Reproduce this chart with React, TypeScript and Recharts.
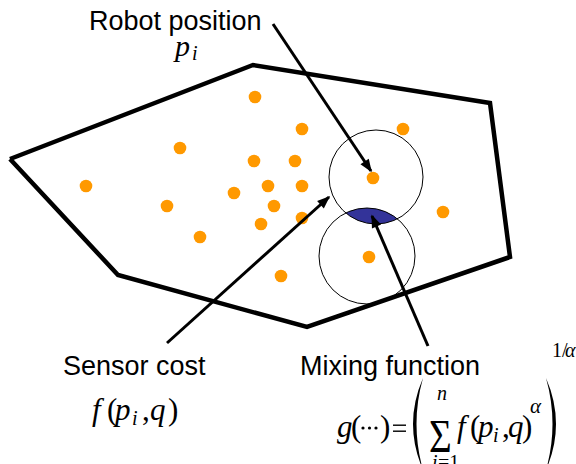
import React from "react";
import { ScatterChart, Scatter, XAxis, YAxis } from "recharts";

const W = 576;
const H = 464;

// the region the robots cover (closed polygon)
const boundary = [
  { x: 10, y: 159 },
  { x: 253, y: 65 },
  { x: 490, y: 103 },
  { x: 510, y: 257 },
  { x: 307, y: 327 },
  { x: 118, y: 275 },
  { x: 10, y: 159 },
];

const robots = [
  { x: 255, y: 97 },
  { x: 180, y: 148 },
  { x: 302, y: 129 },
  { x: 403, y: 129 },
  { x: 254, y: 161 },
  { x: 295, y: 161 },
  { x: 86, y: 186 },
  { x: 234, y: 193 },
  { x: 268, y: 186 },
  { x: 302, y: 186 },
  { x: 167, y: 206 },
  { x: 274, y: 206 },
  { x: 261, y: 224 },
  { x: 302, y: 218 },
  { x: 200, y: 237 },
  { x: 373, y: 178 },
  { x: 443, y: 212 },
  { x: 369, y: 257 },
  { x: 281, y: 276 },
];

// sensing disks of the two highlighted robots
const disks = [
  { x: 376, y: 177, r: 47 },
  { x: 367, y: 256, r: 48 },
];

const robotArrow = [
  { x: 273, y: 24 },
  { x: 371, y: 171 },
];
const sensorArrow = [
  { x: 167, y: 343 },
  { x: 329, y: 197 },
];
const mixingArrow = [
  { x: 428, y: 346 },
  { x: 372, y: 216 },
];

const captions = [
  { x: 89, y: 30, text: "Robot position" },
  { x: 63, y: 375, text: "Sensor cost" },
  { x: 300, y: 375, text: "Mixing function" },
];

const mathAnchors = [
  { x: 175, y: 56, id: "p" },
  { x: 92, y: 420, id: "f" },
  { x: 337, y: 437, id: "g" },
];

const SANS = "'Liberation Sans', Arial, sans-serif";
const SERIF = "'Liberation Serif', 'Times New Roman', serif";

const empty = () => <g />;

const makeArrowHead = (pts: { x: number; y: number }[]) => (props: any) => {
  const last = pts[pts.length - 1];
  const prev = pts[pts.length - 2];
  if (props.payload.x !== last.x || props.payload.y !== last.y) return <g />;
  const a = Math.atan2(last.y - prev.y, last.x - prev.x);
  const len = 13;
  const half = 5;
  const tx = props.cx + Math.cos(a) * 1.5;
  const ty = props.cy + Math.sin(a) * 1.5;
  const bx = tx - Math.cos(a) * len;
  const by = ty - Math.sin(a) * len;
  const nx = -Math.sin(a) * half;
  const ny = Math.cos(a) * half;
  return (
    <path
      d={`M${tx},${ty} L${bx + nx},${by + ny} L${bx - nx},${by - ny} Z`}
      fill="#000"
    />
  );
};

const Dot = (props: any) => (
  <circle cx={props.cx} cy={props.cy} r={6.3} fill="#FF9900" />
);

const Disk = (props: any) => (
  <circle
    cx={props.cx}
    cy={props.cy}
    r={props.payload.r}
    fill="none"
    stroke="#000"
    strokeWidth={1}
  />
);

// intersection of the two sensing disks (chart units are 1:1 with pixels)
const Lens = (props: any) => {
  const [A, B] = disks;
  const dx = B.x - A.x;
  const dy = B.y - A.y;
  const d = Math.hypot(dx, dy);
  const a = (A.r * A.r - B.r * B.r + d * d) / (2 * d);
  const h = Math.sqrt(A.r * A.r - a * a);
  const px = props.cx + (a * dx) / d;
  const py = props.cy + (a * dy) / d;
  const ux = -dy / d;
  const uy = dx / d;
  const x1 = px - h * ux;
  const y1 = py - h * uy;
  const x2 = px + h * ux;
  const y2 = py + h * uy;
  return (
    <path
      d={`M${x1},${y1} A${A.r},${A.r} 0 0 1 ${x2},${y2} A${B.r},${B.r} 0 0 1 ${x1},${y1} Z`}
      fill="#333399"
    />
  );
};

const Caption = (props: any) => (
  <text x={props.cx} y={props.cy} fontFamily={SANS} fontSize={27} fill="#000">
    {props.payload.text}
  </text>
);

// one glyph placed at an absolute spot inside a <text>
const T = ({ x, y, t, it = true, size = 31 }: any) => (
  <tspan x={x} y={y} fontStyle={it ? "italic" : "normal"} fontSize={size}>
    {t}
  </tspan>
);

const fpq = (ox: number, oy: number, pos: number[], key: string) => [
  <T key={key + "f"} x={ox + pos[0]} y={oy} t="f" />,
  <T key={key + "("} x={ox + pos[1]} y={oy} t="(" it={false} />,
  <T key={key + "p"} x={ox + pos[2]} y={oy} t="p" />,
  <T key={key + "i"} x={ox + pos[3]} y={oy + 5} t="i" size={20} />,
  <T key={key + ","} x={ox + pos[4]} y={oy} t="," it={false} />,
  <T key={key + "q"} x={ox + pos[5]} y={oy} t="q" />,
  <T key={key + ")"} x={ox + pos[6]} y={oy} t=")" it={false} />,
];

const MathLabel = (props: any) => {
  const ox = props.cx;
  const oy = props.cy;
  const id = props.payload.id;
  if (id === "p") {
    return (
      <text fontFamily={SERIF} fill="#000">
        <T x={ox} y={oy} t="p" size={30} />
        <T x={ox + 17} y={oy + 4} t="i" size={20} />
      </text>
    );
  }
  if (id === "f") {
    return (
      <text fontFamily={SERIF} fill="#000">
        {fpq(ox, oy, [0, 15, 23, 40, 50, 58, 76], "s")}
      </text>
    );
  }
  // g(...) = ( sum f(p_i,q)^alpha )^(1/alpha)
  return (
    <g>
      <text fontFamily={SERIF} fill="#000">
        <T x={ox} y={oy} t="g" />
        <T x={ox + 14} y={oy} t="(" it={false} />
        <T x={ox + 43} y={oy} t=")" it={false} />
        <T x={ox + 100} y={oy - 37} t="n" size={20} />
        <T x={ox + 95} y={oy + 32} t="i" size={20} />
        <T x={ox + 101} y={oy + 32} t="=1" it={false} size={20} />
        {fpq(ox, oy, [120, 133, 141, 156, 165, 171, 185], "m")}
        <T x={ox + 193} y={oy - 24} t="α" size={21} />
        <T x={ox + 215} y={oy - 80} t="1/" it={false} size={20} />
        <T x={ox + 228} y={oy - 80} t="α" size={20} />
      </text>
      <circle cx={ox + 26} cy={oy - 9} r={1.6} fill="#000" />
      <circle cx={ox + 32.5} cy={oy - 9} r={1.6} fill="#000" />
      <circle cx={ox + 39} cy={oy - 9} r={1.6} fill="#000" />
      <rect x={ox + 56} y={oy - 12.5} width={13} height={1.4} fill="#000" />
      <rect x={ox + 56} y={oy - 6.5} width={13} height={1.4} fill="#000" />
      <path
        d={`M${ox + 86},${oy - 59} Q${ox + 66},${oy - 13} ${ox + 86},${oy + 33} Q${ox + 73},${oy - 13} ${ox + 86},${oy - 59} Z`}
        fill="#000"
      />
      <text
        x={ox + 92}
        y={oy + 15}
        fontFamily={SERIF}
        fontSize={46}
        fill="#000"
        transform={`translate(${ox + 92},0) scale(0.85,1) translate(${-(ox + 92)},0)`}
      >
        Σ
      </text>
      <path
        d={`M${ox + 209},${oy - 59} Q${ox + 229},${oy - 13} ${ox + 209},${oy + 33} Q${ox + 222},${oy - 13} ${ox + 209},${oy - 59} Z`}
        fill="#000"
      />
    </g>
  );
};

export default function App() {
  return (
    <div style={{ position: "absolute", left: 0, top: 0, background: "#fff" }}>
      <ScatterChart width={W} height={H} margin={{ top: 0, right: 0, bottom: 0, left: 0 }}>
        <XAxis type="number" dataKey="x" domain={[0, W]} allowDataOverflow hide />
        <YAxis type="number" dataKey="y" domain={[0, H]} allowDataOverflow reversed hide />
        <Scatter
          data={boundary}
          fill="#000"
          line={{ stroke: "#000", strokeWidth: 4.5, strokeLinejoin: "miter" }}
          shape={empty}
          isAnimationActive={false}
        />
        <Scatter data={robots} shape={Dot} isAnimationActive={false} />
        <Scatter data={[disks[0]]} shape={Lens} isAnimationActive={false} />
        <Scatter data={disks} shape={Disk} isAnimationActive={false} />
        {[robotArrow, sensorArrow, mixingArrow].map((arrow, i) => (
          <Scatter
            key={i}
            data={arrow}
            fill="#000"
            line={{ stroke: "#000", strokeWidth: 3 }}
            shape={makeArrowHead(arrow)}
            isAnimationActive={false}
          />
        ))}
        <Scatter data={captions} shape={Caption} isAnimationActive={false} />
        <Scatter data={mathAnchors} shape={MathLabel} isAnimationActive={false} />
      </ScatterChart>
    </div>
  );
}
